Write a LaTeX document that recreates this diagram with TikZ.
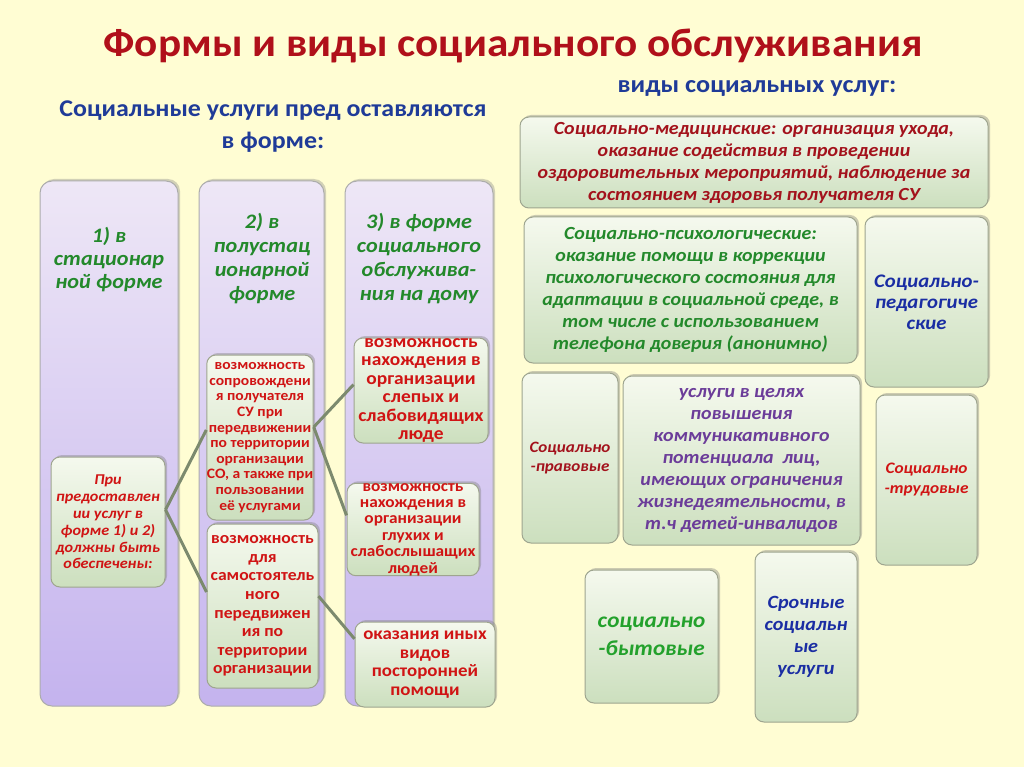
\documentclass[tikz,border=0pt]{standalone}
\usepackage{fontspec}
\setmainfont{Carlito}[FakeStretch=1.08]
\usepackage{tikz}
\usetikzlibrary{shadows}
\usepackage{xcolor}

\definecolor{bgyellow}{HTML}{FFFDD3}
\definecolor{titlered}{HTML}{B0101A}
\definecolor{headblue}{HTML}{1F3B98}
\definecolor{headgreen}{HTML}{23892B}
\definecolor{itemred}{HTML}{D01414}
\definecolor{darkred}{HTML}{A3121C}
\definecolor{commviolet}{HTML}{6B3C99}
\definecolor{pedblue}{HTML}{1A2DA3}
\definecolor{bytgreen}{HTML}{23A12C}
\definecolor{colTop}{HTML}{EEE7F6}
\definecolor{colBot}{HTML}{C4B3EE}
\definecolor{itemTop}{HTML}{F5F9EE}
\definecolor{itemBot}{HTML}{CCDFBE}
\definecolor{boxLine}{HTML}{9EA58F}
\definecolor{linkCol}{HTML}{7C8A6E}

\begin{document}
\begin{tikzpicture}[x=1pt, y=-1pt,
  colbox/.style={draw=gray!65, line width=1, rounded corners=12, top color=colTop, bottom color=colBot,
    drop shadow={shadow xshift=2, shadow yshift=-2, opacity=.35}},
  itembox/.style={draw=boxLine, line width=1, rounded corners=9, top color=itemTop, bottom color=itemBot,
    drop shadow={shadow xshift=2, shadow yshift=-2, opacity=.4}, align=center, inner sep=0pt},
  link/.style={draw=linkCol, line width=3}]
\useasboundingbox (0,0) rectangle (1024,767);
\fill[bgyellow] (0,0) rectangle (1024,767);

% Title
\node[font=\fontsize{40}{44}\selectfont\bfseries, text=titlered] (title) at (513,46) {Формы и виды социального обслуживания};

% Headers
\node[font=\fontsize{24}{32}\selectfont\bfseries, text=headblue, align=center] (formhead) at (273,127) {Социальные услуги пред оставляются\\в форме:};
\node[font=\fontsize{24.3}{28}\selectfont\bfseries, text=headblue] (kindhead) at (757,88) {виды социальных услуг:};

% Forms (columns)
\node[colbox, minimum width=138, minimum height=525] (col1) at (109,443.5) {};
\node[colbox, minimum width=125, minimum height=525] (col2) at (261.5,443.5) {};
\node[colbox, minimum width=148, minimum height=525] (col3) at (419,443.5) {};

\node[font=\fontsize{20.6}{23}\selectfont\bfseries\itshape, text=headgreen, align=center] (h1) at (109,260) {1) в\\стационар\\ной форме};
\node[font=\fontsize{20.6}{24}\selectfont\bfseries\itshape, text=headgreen, align=center] (h2) at (262,259) {2) в\\полустац\\ионарной\\форме};
\node[font=\fontsize{20.6}{24}\selectfont\bfseries\itshape, text=headgreen, align=center] (h3) at (419,259) {3) в форме\\социального\\обслужива-\\ния на дому};

% Conditions
\node[itembox, minimum width=114, minimum height=130, font=\fontsize{15}{16.8}\selectfont\bfseries\itshape, text=itemred] (cond) at (108,522) {При\\предоставлен\\ии услуг в\\форме 1) и 2)\\должны быть\\обеспечены:};

\node[itembox, minimum width=106, minimum height=165, font=\fontsize{14.4}{15.6}\selectfont\bfseries, text=itemred] (escort) at (260,437.5) {возможность\\сопровождени\\я получателя\\СУ при\\передвижении\\по территории\\организации\\СО, а также при\\пользовании\\её услугами};
\node[itembox, minimum width=111, minimum height=164, font=\fontsize{16.3}{18.6}\selectfont\bfseries, text=itemred] (moving) at (262.5,606) {возможность\\для\\самостоятель\\ного\\передвижен\\ия по\\территории\\организации};

\node[itembox, minimum width=134, minimum height=105, font=\fontsize{18}{18.5}\selectfont\bfseries, text=itemred] (blind) at (421,390.5) {возможность\\нахождения в\\организации\\слепых и\\слабовидящих\\люде};
\node[itembox, minimum width=132, minimum height=85, font=\fontsize{16}{16.4}\selectfont\bfseries, text=itemred] (deaf) at (413,529.5) {возможность\\нахождения в\\организации\\глухих и\\слабослышащих\\людей};
\node[itembox, minimum width=140, minimum height=85, font=\fontsize{17.5}{18.6}\selectfont\bfseries, text=itemred] (help) at (425,664.5) {оказания иных\\видов\\посторонней\\помощи};

% Links
\draw[link] (cond.12) -- (escort.172);
\draw[link] (cond.12) -- (moving.166);
\draw[link] (escort.11) -- (blind.175);
\draw[link] (escort.11) -- (deaf.168);
\draw[link] (moving.10) -- (help.160);

% Kinds of services
\node[itembox, minimum width=468, minimum height=91, font=\fontsize{18.5}{22}\selectfont\bfseries\itshape, text=darkred] (med) at (754,162.5) {Социально-медицинские: организация ухода,\\оказание содействия в проведении\\оздоровительных мероприятий, наблюдение за\\состоянием здоровья получателя СУ};
\node[itembox, minimum width=333, minimum height=146, font=\fontsize{18.5}{22}\selectfont\bfseries\itshape, text=headgreen] (psy) at (690.5,290) {Социально-психологические:\\оказание помощи в коррекции\\психологического состояния для\\адаптации в социальной среде, в\\том числе с использованием\\телефона доверия (анонимно)};
\node[itembox, minimum width=123, minimum height=170, font=\fontsize{19.2}{21}\selectfont\bfseries\itshape, text=pedblue] (ped) at (926.5,302) {Социально-\\педагогиче\\ские};

\node[itembox, minimum width=96, minimum height=170, font=\fontsize{15.8}{19}\selectfont\bfseries\itshape, text=darkred] (law) at (570,458) {Социально\\-правовые};
\node[itembox, minimum width=237, minimum height=169, font=\fontsize{18.5}{22}\selectfont\bfseries\itshape, text=commviolet] (comm) at (741.5,460.5) {услуги в целях\\повышения\\коммуникативного\\потенциала\ \ лиц,\\имеющих ограничения\\жизнедеятельности, в\\т.ч детей-инвалидов};
\node[itembox, minimum width=101, minimum height=170, font=\fontsize{16}{20}\selectfont\bfseries\itshape, text=itemred] (labour) at (926.5,480) {Социально\\-трудовые};

\node[itembox, minimum width=133, minimum height=133, font=\fontsize{21.5}{28}\selectfont\bfseries\itshape, text=bytgreen] (daily) at (651.5,636.5) {социально\\-бытовые};
\node[itembox, minimum width=102, minimum height=170, font=\fontsize{18.7}{22}\selectfont\bfseries\itshape, text=pedblue] (urgent) at (806,637) {Срочные\\социальн\\ые\\услуги};
\end{tikzpicture}
\end{document}
